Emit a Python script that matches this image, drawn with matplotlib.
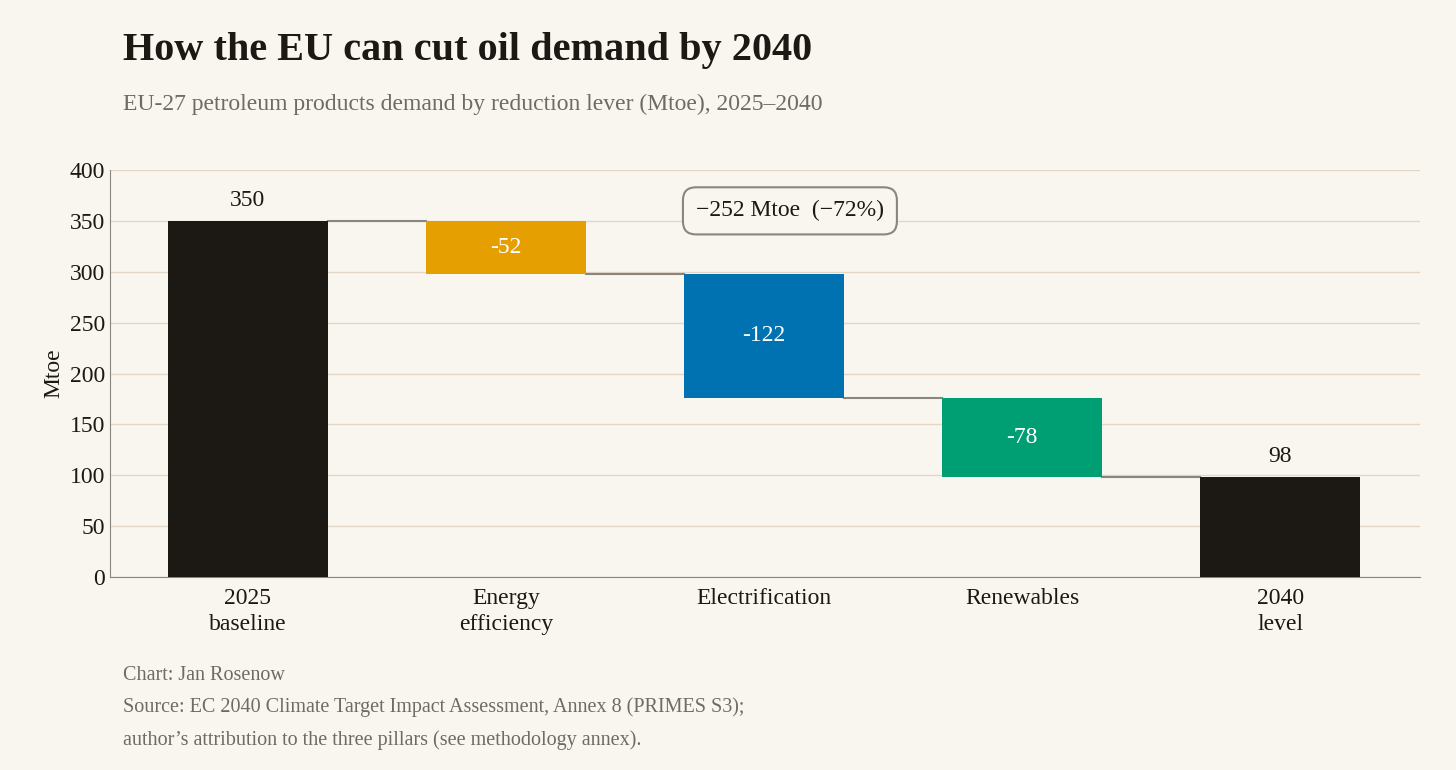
import matplotlib
matplotlib.use("Agg")
import matplotlib.pyplot as plt

categories = ["2025\nbaseline", "Energy\nefficiency", "Electrification", "Renewables", "2040\nlevel"]
changes = [350, -52, -122, -78, 98]
kinds = ["total", "delta", "delta", "delta", "total"]
bar_colors = ["#1c1915", "#e69f00", "#0072b2", "#009e73", "#1c1915"]

BG = "#f9f6f0"
plt.rcParams["font.family"] = ["Liberation Serif", "DejaVu Serif"]

fig = plt.figure(figsize=(14.56, 7.7), dpi=100, facecolor=BG)
ax = fig.add_axes([0.0755, 0.2506, 0.8995, 0.5284], facecolor=BG)

level = 0
tops = []
for i, (v, k, c) in enumerate(zip(changes, kinds, bar_colors)):
    if k == "total":
        ax.bar(i, v, width=0.62, color=c, zorder=3)
        ax.text(i, v + 10, f"{v}", ha="center", va="bottom", fontsize=17, color="#1c1915")
        level = v
    else:
        ax.bar(i, v, bottom=level, width=0.62, color=c, zorder=3)
        ax.text(i, level + v / 2, f"{v}", ha="center", va="center", fontsize=17, color="white", zorder=4)
        level = level + v
    tops.append(level)

for i in range(len(changes) - 1):
    ax.plot([i + 0.31, i + 1 - 0.31], [tops[i], tops[i]], color="#8a8580", lw=1.5, zorder=2)

total = changes[-1] - changes[0]
ax.text(2.1, 360, f"\u2212{abs(total)} Mtoe  (\u2212{round(abs(total) / changes[0] * 100)}%)",
        ha="center", va="center", fontsize=17, color="#1c1915",
        bbox=dict(boxstyle="round,pad=0.55", fc=BG, ec="#8a8580", lw=1.5))

ax.set_xlim(-0.535, 4.54)
ax.set_ylim(0, 400)
ax.set_yticks(range(0, 401, 50))
ax.set_xticks(range(len(categories)))
ax.set_xticklabels(categories, fontsize=17, color="#1c1915", linespacing=1.3)
ax.tick_params(axis="y", labelsize=17, colors="#1c1915", length=0)
ax.tick_params(axis="x", length=0, pad=8)
ax.grid(axis="y", color="#e3d6c6", lw=1, zorder=0)
for s in ["top", "right"]:
    ax.spines[s].set_visible(False)
ax.spines["left"].set_color("#8a8580")
ax.spines["bottom"].set_color("#8a8580")
ax.set_ylabel("Mtoe", fontsize=17, color="#1c1915")

fig.text(0.0845, 0.935, "How the EU can cut oil demand by 2040", fontsize=29, fontweight="bold",
         color="#1c1915", va="center")
fig.text(0.0845, 0.865, "EU-27 petroleum products demand by reduction lever (Mtoe), 2025\u20132040",
         fontsize=17, color="#6e6a66", va="center")
fig.text(0.0845, 0.123, "Chart: Jan Rosenow", fontsize=14.5, color="#6e6a66", va="center")
fig.text(0.0845, 0.082, "Source: EC 2040 Climate Target Impact Assessment, Annex 8 (PRIMES S3);",
         fontsize=14.5, color="#6e6a66", va="center")
fig.text(0.0845, 0.039, "author\u2019s attribution to the three pillars (see methodology annex).",
         fontsize=14.5, color="#6e6a66", va="center")

fig.savefig("out.png", dpi=100, facecolor=BG)
